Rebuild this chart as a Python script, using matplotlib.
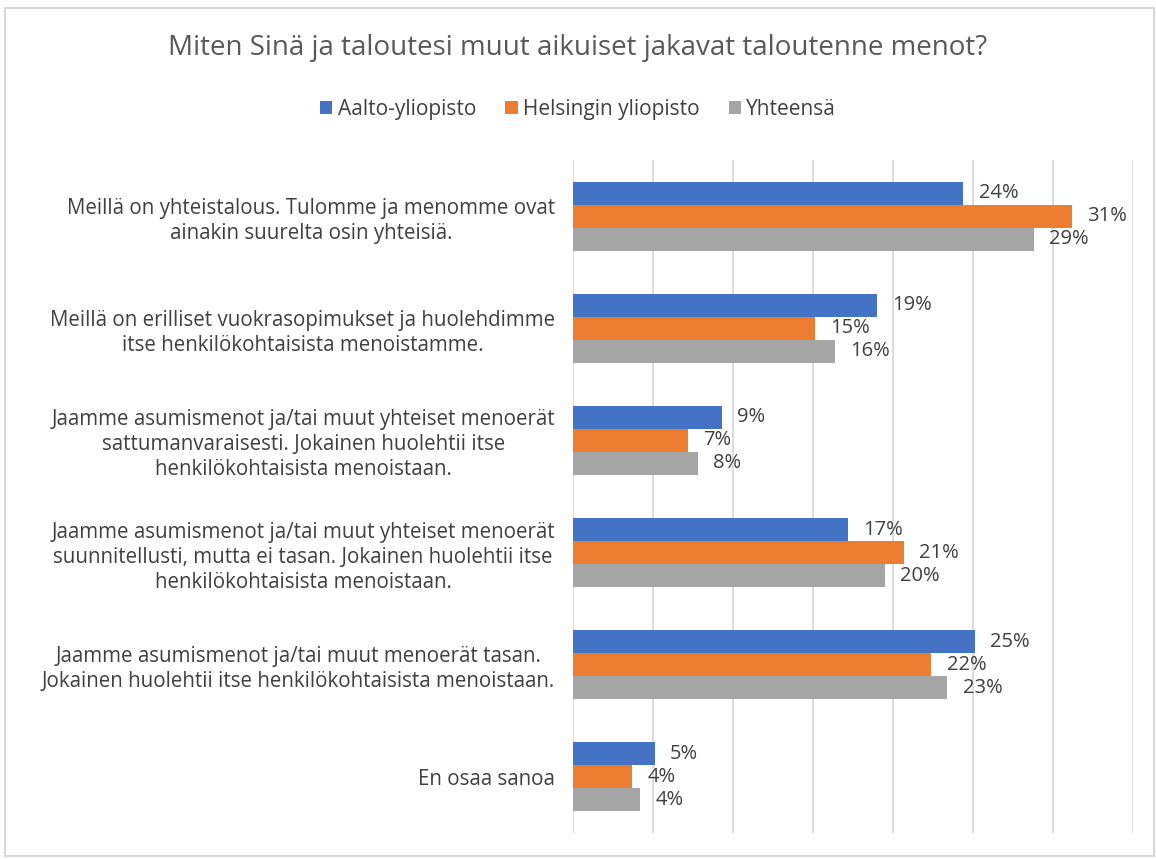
import matplotlib
matplotlib.use('Agg')
import matplotlib.pyplot as plt
from matplotlib.patches import Rectangle
import numpy as np

#-------------------------------------------------------------------------#
# Data                                                                    #
#-------------------------------------------------------------------------#
categories = [
    'Meillä on yhteistalous. Tulomme ja menomme ovat\nainakin suurelta osin yhteisiä.',
    'Meillä on erilliset vuokrasopimukset ja huolehdimme\nitse henkilökohtaisista menoistamme.',
    'Jaamme asumismenot ja/tai muut yhteiset menoerät\nsattumanvaraisesti. Jokainen huolehtii itse\nhenkilökohtaisista menoistaan.',
    'Jaamme asumismenot ja/tai muut yhteiset menoerät\nsuunnitellusti, mutta ei tasan. Jokainen huolehtii itse\nhenkilökohtaisista menoistaan.',
    'Jaamme asumismenot ja/tai muut menoerät tasan.\nJokainen huolehtii itse henkilökohtaisista menoistaan.',
    'En osaa sanoa',
]
series_names = ['Aalto-yliopisto', 'Helsingin yliopisto', 'Yhteensä']
aalto = [24.4, 19.0, 9.3, 17.2, 25.1, 5.1]
helsinki = [31.2, 15.1, 7.2, 20.7, 22.4, 3.7]
total = [28.8, 16.4, 7.8, 19.5, 23.4, 4.2]
colors = ['#4472C4', '#ED7D31', '#A5A5A5']

#-------------------------------------------------------------------------#
# Plot                                                                    #
#-------------------------------------------------------------------------#
plt.rcParams['font.family'] = ['Open Sans', 'DejaVu Sans']
fig = plt.figure(figsize=(11.56, 8.59), dpi=100)
ax = fig.add_axes([0.4957, 0.0303, 0.4844, 0.7834])

y = np.arange(len(categories))
h = 0.205
for k, (vals, c, name) in enumerate(zip([aalto, helsinki, total], colors, series_names)):
    pos = y + (k - 1) * h
    ax.barh(pos, vals, height=h, color=c, label=name, zorder=3)
    for yy, v in zip(pos, vals):
        ax.text(v + 0.95, yy, '%d%%' % round(v), va='center', ha='left',
                fontsize=14.5, color='#404040', zorder=4)

ax.set_xlim(0, 35)
ax.set_xticks(np.arange(0, 36, 5))
ax.set_ylim(len(categories) - 0.5, -0.5)
ax.set_yticks(y)
ax.set_yticklabels(categories, fontsize=14.8, color='#404040',
                   multialignment='center', linespacing=1.25)
ax.tick_params(axis='y', length=0, pad=13)
ax.tick_params(axis='x', length=0, labelbottom=False)
ax.xaxis.grid(True, color='#D9D9D9', linewidth=1.3, zorder=0)
for s in ax.spines.values():
    s.set_visible(False)

fig.text(0.5, 0.944, 'Miten Sinä ja taloutesi muut aikuiset jakavat taloutenne menot?',
         ha='center', va='center', fontsize=20, color='#595959')
fig.legend(loc='center', bbox_to_anchor=(0.5, 0.873), ncol=3, frameon=False,
           fontsize=15, handlelength=0.6, handleheight=0.6, handletextpad=0.25,
           columnspacing=1.4, labelcolor='#404040')

fig.patches.append(Rectangle((0.004, 0.003), 0.994, 0.988, transform=fig.transFigure,
                             fill=False, edgecolor='#D9D9D9', linewidth=1.5))

plt.savefig('out.png', dpi=100)
plt.close()
